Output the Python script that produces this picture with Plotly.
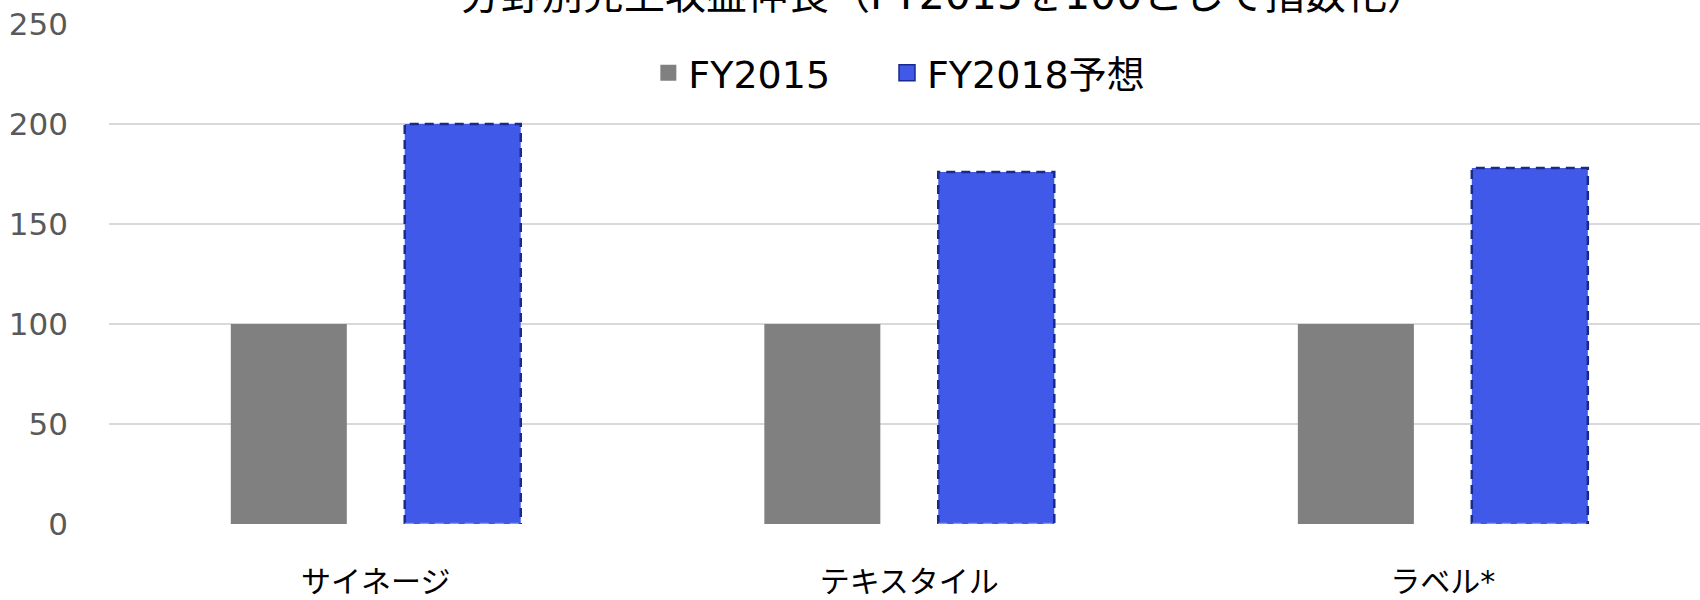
import plotly.graph_objects as go

categories = ["サイネージ", "テキスタイル", "ラベル*"]
fy2015 = [100, 100, 100]
fy2018 = [200, 176, 178]
series_names = ["FY2015", "FY2018予想"]
title_text = "分野別売上収益伸長（FY2015を100として指数化）"
y_ticks = [0, 50, 100, 150, 200, 250]

FONT = "DejaVu Sans, Noto Sans CJK JP, sans-serif"
GRAY = "#808080"
BLUE = "#4159E8"
NAVY = "#1A2A8C"

BARGAP = 0.348
GROUPGAP = 0.333
slot = (1 - BARGAP) / 2
barw = slot * (1 - GROUPGAP)

idx = list(range(len(categories)))

fig = go.Figure()
fig.add_trace(go.Bar(x=idx, y=fy2015, name=series_names[0], showlegend=False,
                     marker=dict(color=GRAY, line=dict(width=0))))
fig.add_trace(go.Bar(x=idx, y=fy2018, name=series_names[1], showlegend=False,
                     marker=dict(color=BLUE, line=dict(width=0))))

# dashed outline for forecast bars, derived from data
ox, oy, bx, by = [], [], [], []
for i, v in zip(idx, fy2018):
    c = i + slot / 2
    l, r = c - barw / 2, c + barw / 2
    ox += [l, l, r, r, None]
    oy += [0, v, v, 0, None]
    bx += [l, r, None]
    by += [0, 0, None]
fig.add_trace(go.Scatter(x=ox, y=oy, mode="lines", showlegend=False, hoverinfo="skip",
                         line=dict(color=NAVY, width=2.5, dash="9px,6px")))
fig.add_trace(go.Scatter(x=bx, y=by, mode="lines", showlegend=False, hoverinfo="skip",
                         line=dict(color="#8A98E0", width=2.5, dash="9px,6px")))

# legend entries
fig.add_trace(go.Scatter(x=[None], y=[None], mode="markers", name=series_names[0],
                         legend="legend",
                         marker=dict(symbol="square", size=20, color=GRAY,
                                     line=dict(width=0))))
fig.add_trace(go.Scatter(x=[None], y=[None], mode="markers", name=series_names[1],
                         legend="legend2",
                         marker=dict(symbol="square", size=20, color=BLUE,
                                     line=dict(width=1.5, color=NAVY))))

leg_common = dict(orientation="h", y=0.902, yanchor="middle", xanchor="left",
                  font=dict(size=38, color="#000000"), bgcolor="rgba(0,0,0,0)",
                  itemsizing="trace", itemwidth=30)

fig.update_layout(
    width=1700, height=600,
    margin=dict(l=109, r=0, t=24, b=76),
    paper_bgcolor="white", plot_bgcolor="white",
    barmode="group", bargap=BARGAP, bargroupgap=GROUPGAP,
    font=dict(family=FONT, color="#000000"),
    showlegend=True,
    legend=dict(x=0.339, **leg_common),
    legend2=dict(x=0.489, **leg_common),
    annotations=[dict(text=title_text, xref="paper", yref="paper", x=0.525, y=1.058,
                      xanchor="center", yanchor="middle", showarrow=False,
                      font=dict(size=41, color="#000000", family=FONT))],
)
fig.update_xaxes(range=[-0.5, 2.482], tickvals=idx, ticktext=categories,
                 showgrid=False, zeroline=False, showline=False, ticks="",
                 automargin=False,
                 tickfont=dict(size=30, color="#000000"), ticklabelstandoff=37)
fig.update_yaxes(range=[0, 250], tickvals=y_ticks, showgrid=True, gridcolor="#D9D9D9",
                 gridwidth=2, zeroline=False, showline=False, ticks="",
                 automargin=False,
                 tickfont=dict(size=31, color="#595959"), ticklabelstandoff=40)

fig.write_html("out.html", config={"displayModeBar": False},
               post_script="document.body.style.margin='0';")
